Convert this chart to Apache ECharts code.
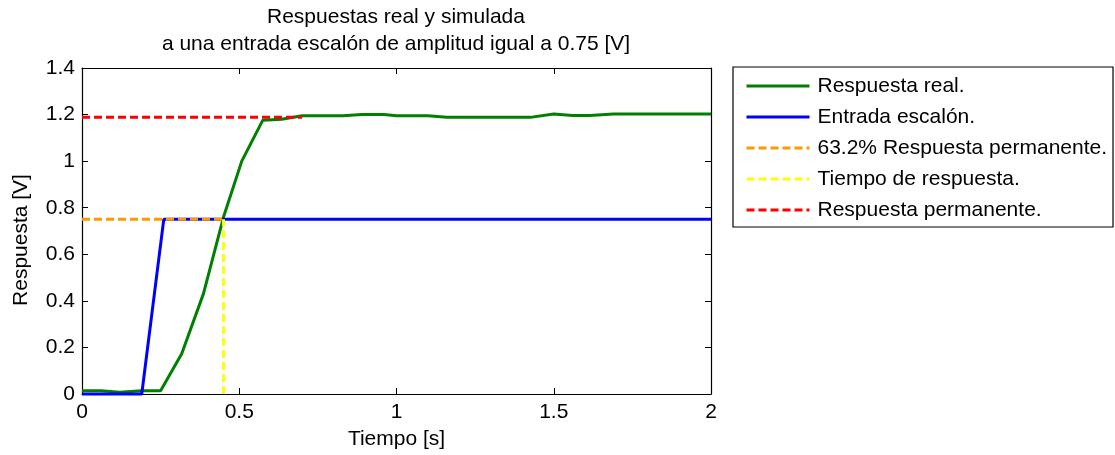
<!DOCTYPE html>
<html>
<head>
<meta charset="utf-8">
<script src="https://cdn.jsdelivr.net/npm/echarts@6/dist/echarts.min.js"></script>
<style>
  html, body { margin: 0; padding: 0; background: #fff; }
  #chart { width: 1115px; height: 455px; }
</style>
</head>
<body>
<div id="chart"></div>
<script>
// Measured response of the system (time in s, output in V)
const realTime = [0, 0.06, 0.12, 0.19, 0.25, 0.317, 0.386, 0.45, 0.508, 0.575, 0.635, 0.70, 0.83, 0.89, 0.96, 1.00, 1.10, 1.16, 1.425, 1.50, 1.56, 1.615, 1.69, 2.0];
const realValue = [0.014, 0.014, 0.008, 0.014, 0.014, 0.173, 0.43, 0.76, 1.0, 1.176, 1.18, 1.195, 1.195, 1.2, 1.2, 1.195, 1.195, 1.188, 1.188, 1.202, 1.196, 1.196, 1.202, 1.202];

// Step input of amplitude 0.75 V
const stepTime = [0, 0.19, 0.26, 2.0];
const stepValue = [0, 0, 0.75, 0.75];

// 63.2 % of the steady-state response
const pct632Time = [0, 0.45];
const pct632Value = [0.75, 0.75];

// Time constant marker
const tauTime = [0.45, 0.45];
const tauValue = [0, 0.75];

// Steady-state response level
const steadyTime = [0, 0.70];
const steadyValue = [1.188, 1.188];

// Axis ticks
const xTicks = { min: 0, max: 2, interval: 0.5 };
const yTicks = { min: 0, max: 1.4, interval: 0.2 };

const seriesNames = [
  'Respuesta real.',
  'Entrada escalón.',
  '63.2% Respuesta permanente.',
  'Tiempo de respuesta.',
  'Respuesta permanente.'
];

const FONT = 'Liberation Sans, Arial, Helvetica, sans-serif';
const FS = 21;
const zip = (xs, ys) => xs.map((x, i) => [x, ys[i]]);

function lineSeries(name, xs, ys, color, dashed) {
  return {
    name: name,
    type: 'line',
    data: zip(xs, ys),
    symbol: 'none',
    clip: false,
    animation: false,
    lineStyle: { color: color, width: 3, type: dashed ? [8, 4] : 'solid' },
    itemStyle: { color: color }
  };
}

const chart = echarts.init(document.getElementById('chart'), null, { renderer: 'canvas' });

const baseAxis = {
  type: 'value',
  axisLine: { show: true, onZero: false, lineStyle: { color: '#000', width: 1.2 } },
  axisTick: { show: true, inside: true, length: 6, lineStyle: { color: '#000', width: 1 } },
  splitLine: { show: false }
};

chart.setOption({
  backgroundColor: '#fff',
  animation: false,
  textStyle: { fontFamily: FONT },
  title: {
    text: 'Respuestas real y simulada\na una entrada escalón de amplitud igual a 0.75 [V]',
    left: 396,
    top: 4,
    textAlign: 'center',
    padding: 0,
    textStyle: { fontFamily: FONT, fontSize: FS, fontWeight: 'normal', color: '#000', lineHeight: 27 }
  },
  grid: { left: 82, right: 404, top: 68, bottom: 60, containLabel: false },
  legend: {
    orient: 'vertical',
    left: 733,
    top: 67,
    padding: [8, 6, 6, 12],
    itemGap: 9,
    itemWidth: 63,
    itemHeight: 14,
    borderColor: '#000',
    borderWidth: 1.2,
    backgroundColor: '#fff',
    selectedMode: false,
    data: seriesNames,
    itemStyle: { opacity: 0 },
    lineStyle: { width: 3 },
    textStyle: { fontFamily: FONT, fontSize: FS, color: '#000', lineHeight: 22, padding: [0, 0, 0, 3] }
  },
  xAxis: [
    Object.assign({}, baseAxis, {
      position: 'bottom',
      min: xTicks.min, max: xTicks.max, interval: xTicks.interval,
      name: 'Tiempo [s]',
      nameLocation: 'middle',
      nameGap: 35,
      nameTextStyle: { fontFamily: FONT, fontSize: FS, color: '#000' },
      axisLabel: { fontFamily: FONT, fontSize: FS, color: '#000', margin: 8 }
    }),
    Object.assign({}, baseAxis, {
      position: 'top',
      min: xTicks.min, max: xTicks.max, interval: xTicks.interval,
      axisLabel: { show: false }
    })
  ],
  yAxis: [
    Object.assign({}, baseAxis, {
      position: 'left',
      min: yTicks.min, max: yTicks.max, interval: yTicks.interval,
      name: 'Respuesta [V]',
      nameLocation: 'middle',
      nameGap: 50,
      nameTextStyle: { fontFamily: FONT, fontSize: FS, color: '#000', padding: [0, 18, 0, 0] },
      axisLabel: { fontFamily: FONT, fontSize: FS, color: '#000', margin: 7 }
    }),
    Object.assign({}, baseAxis, {
      position: 'right',
      min: yTicks.min, max: yTicks.max, interval: yTicks.interval,
      axisLabel: { show: false }
    })
  ],
  series: [
    lineSeries(seriesNames[0], realTime, realValue, '#008000', false),
    lineSeries(seriesNames[1], stepTime, stepValue, '#0000ff', false),
    lineSeries(seriesNames[2], pct632Time, pct632Value, '#ff9900', true),
    lineSeries(seriesNames[3], tauTime, tauValue, '#ffff00', true),
    lineSeries(seriesNames[4], steadyTime, steadyValue, '#ff0000', true)
  ]
});
</script>
</body>
</html>
